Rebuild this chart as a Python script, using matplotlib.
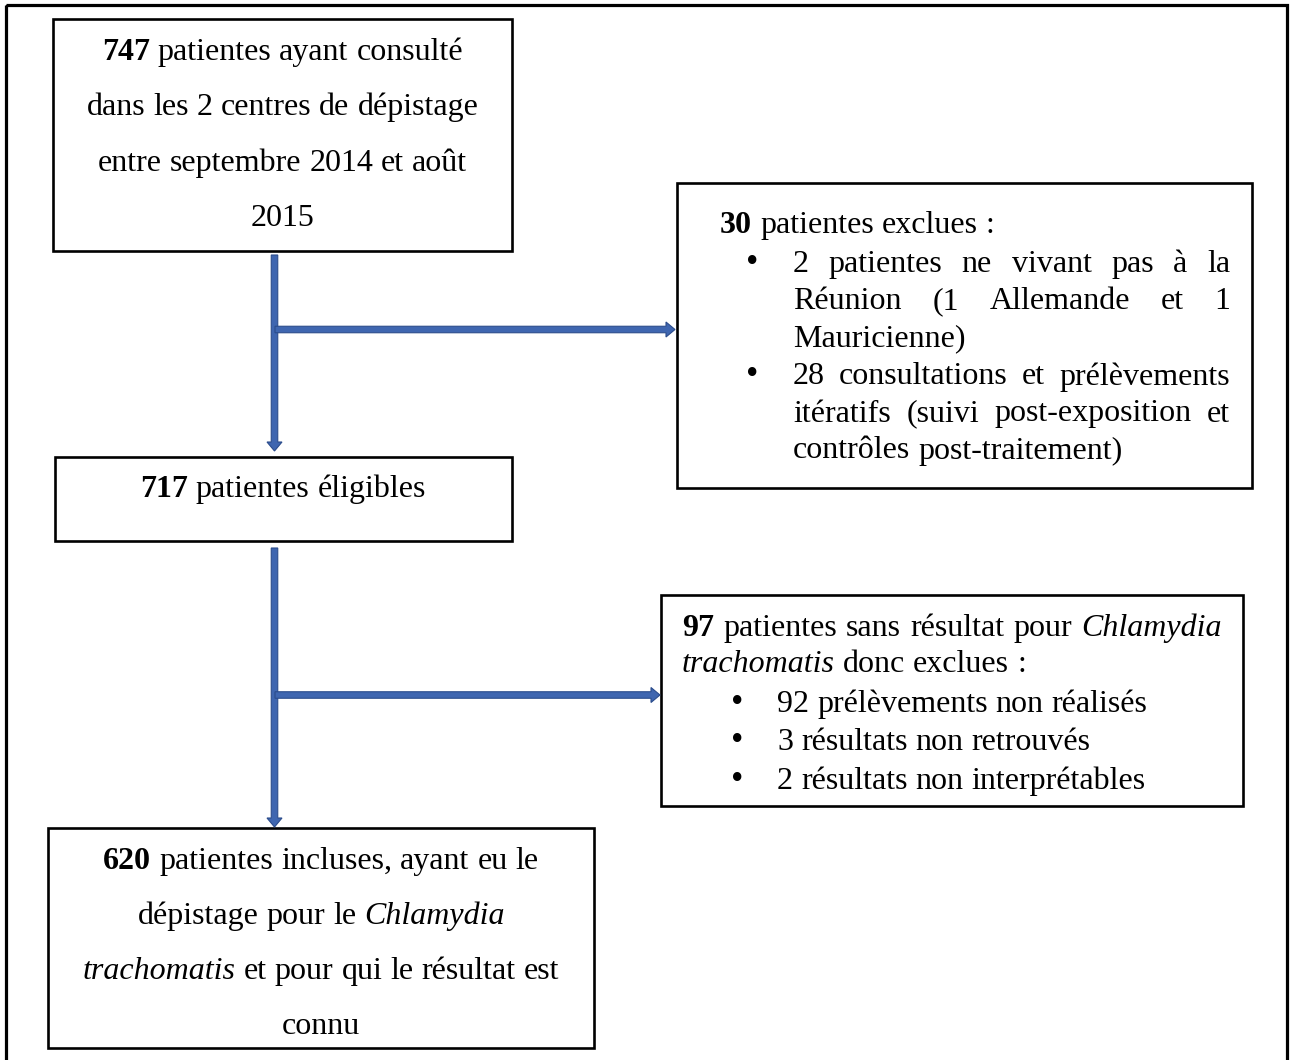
import matplotlib
matplotlib.use("Agg")
import matplotlib.pyplot as plt
from matplotlib.patches import Rectangle, FancyArrow

# ---------------- data (text content) ----------------
box1_lines = ["**747** patientes ayant consulté",
              "dans les 2 centres de dépistage",
              "entre septembre 2014 et août",
              "2015"]
box2_header = "**30** patientes exclues :"
box2_bullets = [
    ["2 patientes ne vivant pas à la", "Réunion (1 Allemande et 1", "Mauricienne)"],
    ["28 consultations et prélèvements", "itératifs (suivi post-exposition et", "contrôles post-traitement)"],
]
box3_lines = ["**717** patientes éligibles"]
box4_header = ["**97** patientes sans résultat pour *Chlamydia*",
               "*trachomatis* donc exclues :"]
box4_bullets = ["92 prélèvements non réalisés",
                "3 résultats non retrouvés",
                "2 résultats non interprétables"]
box5_lines = ["**620** patientes incluses, ayant eu le",
              "dépistage pour le *Chlamydia*",
              "*trachomatis* et pour qui le résultat est",
              "connu"]

FONT = "Liberation Serif"
FS = 23
ARROW_FACE = "#3F66B0"
ARROW_EDGE = "#2B4C8C"

fig = plt.figure(figsize=(12.9, 10.6), dpi=100)
ax = fig.add_axes([0, 0, 1, 1])
ax.set_xlim(0, 1290)
ax.set_ylim(1060, 0)
ax.axis("off")
renderer = fig.canvas.get_renderer()


def parse(line):
    out = []
    for w in line.split(" "):
        if w.startswith("**") and w.endswith("**"):
            out.append((w[2:-2], "bold", "normal"))
        elif w.startswith("*") and w.endswith("*"):
            out.append((w[1:-1], "normal", "italic"))
        else:
            out.append((w, "normal", "normal"))
    return out


def width(s, weight="normal", style="normal"):
    t = ax.text(0, 0, s, fontsize=FS, family=FONT, weight=weight, style=style)
    w = t.get_window_extent(renderer).width
    t.remove()
    return w


SPACE = width("a a") - width("aa")


def draw_line(line, x, y, align="left", right=None):
    words = parse(line)
    ws = [width(w, wt, st) for w, wt, st in words]
    n = len(words)
    if align == "center":
        total = sum(ws) + SPACE * (n - 1)
        cur = x - total / 2
        gap = SPACE
    elif align == "justify" and n > 1:
        cur = x
        gap = (right - x - sum(ws)) / (n - 1)
    else:
        cur = x
        gap = SPACE
    for (w, wt, st), wd in zip(words, ws):
        ax.text(cur, y, w, fontsize=FS, family=FONT, weight=wt, style=st,
                ha="left", va="baseline", color="black")
        cur += wd + gap


def box(x0, y0, x1, y1, lw=1.9):
    ax.add_patch(Rectangle((x0, y0), x1 - x0, y1 - y0, fill=False,
                           edgecolor="black", linewidth=lw))


def arrow(x0, y0, x1, y1):
    ax.add_patch(FancyArrow(x0, y0, x1 - x0, y1 - y0, width=6.5,
                            head_width=15, head_length=9,
                            length_includes_head=True,
                            facecolor=ARROW_FACE, edgecolor=ARROW_EDGE,
                            linewidth=0.8))


def bullet(x, y):
    ax.text(x, y, "•", fontsize=FS * 1.1, family=FONT, ha="center",
            va="baseline", color="black")


# outer frame (bottom edge lies outside the picture)
box(6, 5, 1287, 1075, lw=2.3)

# boxes
box(53, 19, 512, 251)
box(677, 183, 1252, 488)
box(55, 457, 512, 541)
box(661, 595, 1243, 806)
box(48, 828, 594, 1048)

# arrows
arrow(274.5, 255, 274.5, 451)
arrow(275, 329.5, 675, 329.5)
arrow(274.5, 548, 274.5, 827)
arrow(275, 695, 660, 695)

# box 1 text
for i, ln in enumerate(box1_lines):
    draw_line(ln, 282.5, 60 + i * 55.3, align="center")

# box 2 text
draw_line(box2_header, 720, 233)
yy = 272
for bl in box2_bullets:
    bullet(752, yy)
    for j, ln in enumerate(bl):
        last = j == len(bl) - 1
        draw_line(ln, 793, yy, align="left" if last else "justify", right=1230)
        yy += 37
    yy += 1.5

# box 3 text
draw_line(box3_lines[0], 283, 497, align="center")

# box 4 text
draw_line(box4_header[0], 682, 636, align="justify", right=1222)
draw_line(box4_header[1], 682, 672)
for i, ln in enumerate(box4_bullets):
    y = 712 + i * 38.5
    bullet(737, y)
    draw_line(ln, 777, y)

# box 5 text
for i, ln in enumerate(box5_lines):
    draw_line(ln, 321, 869 + i * 55, align="center")

fig.savefig("out.png", dpi=100)
